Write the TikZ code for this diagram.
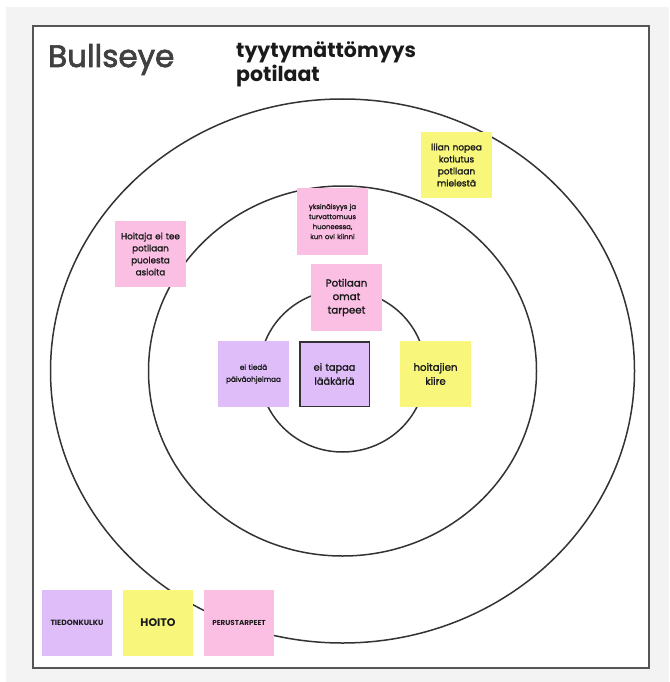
\documentclass[tikz,border=0pt]{standalone}
\usepackage{fontspec}
\setmainfont{Poppins}
\newfontfamily\notefont{Poppins}[FakeBold=1.6]
\newfontfamily\headfont{Poppins}[FakeBold=2.2]
\definecolor{panelgray}{HTML}{F3F3F3}
\definecolor{framegray}{HTML}{555555}
\definecolor{titlegray}{HTML}{404040}
\definecolor{ringgray}{HTML}{333333}
\definecolor{notepink}{HTML}{FBBFE4}
\definecolor{notepurple}{HTML}{DEBDF9}
\definecolor{noteyellow}{HTML}{F8F77C}
\definecolor{inkdark}{HTML}{1A1A1A}
\tikzset{
  ring/.style={draw=ringgray, line width=1.5pt},
  sticky/.style={inner sep=0pt, minimum width=71pt, minimum height=66pt,
    text width=68pt, align=center, text=inkdark, font=\notefont\fontsize{8}{11.5}\selectfont},
  pinknote/.style={sticky, fill=notepink},
  purplenote/.style={sticky, fill=notepurple},
  yellownote/.style={sticky, fill=noteyellow},
}
\begin{document}
\begin{tikzpicture}[x=1pt, y=-1pt]
  \useasboundingbox (0,0) rectangle (669,682);
  % grey panel and white board
  \fill[panelgray] (6,7) rectangle (669,682);
  \draw[framegray, fill=white, line width=2pt] (33,26) rectangle (649,668);

  % headings
  \node[anchor=base west, inner sep=0pt, text=titlegray,
        font=\headfont\fontsize{31}{32}\selectfont] (title) at (48,67) {Bullseye};
  \node[anchor=north west, inner sep=0pt, align=left, text=inkdark,
        font=\bfseries\fontsize{20.5}{24.5}\selectfont] (topic) at (236,41)
        {tyytymättömyys\\potilaat};

  % target rings
  \coordinate (c) at (342.5,371);
  \draw[ring] (c) ellipse [x radius=292pt, y radius=272pt];
  \draw[ring] (c) ellipse [x radius=194pt, y radius=185pt];
  \draw[ring] (c) ellipse [x radius=83pt, y radius=81pt];

  % notes on the rings
  \node[pinknote, font=\notefont\fontsize{8.8}{12}\selectfont] (hoitaja) at (150.5,254)
       {Hoitaja ei tee\\potilaan\\puolesta\\asioita};
  \node[pinknote, minimum height=67pt, font=\notefont\fontsize{6.9}{10}\selectfont] (yksin) at (332.5,221.5)
       {yksinäisyys ja\\turvattomuus\\huoneessa,\\kun ovi kiinni};
  \node[yellownote, font=\notefont\fontsize{9}{12}\selectfont] (liian) at (456.5,165)
       {liian nopea\\kotiutus\\potilaan\\mielestä};
  \node[pinknote, minimum height=67pt, font=\notefont\fontsize{10.2}{13.5}\selectfont] (tarpeet) at (346.5,297.5)
       {Potilaan\\omat\\tarpeet};
  \node[purplenote, font=\notefont\fontsize{7.2}{12}\selectfont] (paiva) at (253.5,374)
       {ei tiedä\\päiväohjelmaa};
  \node[purplenote, draw=ringgray, line width=1.5pt, minimum width=69.5pt, minimum height=64.5pt,
        font=\notefont\fontsize{9.8}{14}\selectfont] (laakari) at (334.5,374) {ei tapaa\\lääkäriä};
  \node[yellownote, font=\notefont\fontsize{10.2}{14}\selectfont] (kiire) at (435.5,374) {hoitajien\\kiire};

  % legend
  \node[purplenote, minimum width=70pt, font=\bfseries\fontsize{7.6}{9}\selectfont] (tiedon) at (77,623) {TIEDONKULKU};
  \node[yellownote, minimum width=70pt, font=\bfseries\fontsize{11}{13}\selectfont] (hoito) at (158,623) {HOITO};
  \node[pinknote, minimum width=70pt, font=\bfseries\fontsize{7.2}{9}\selectfont] (perus) at (239,623) {PERUSTARPEET};
\end{tikzpicture}
\end{document}
